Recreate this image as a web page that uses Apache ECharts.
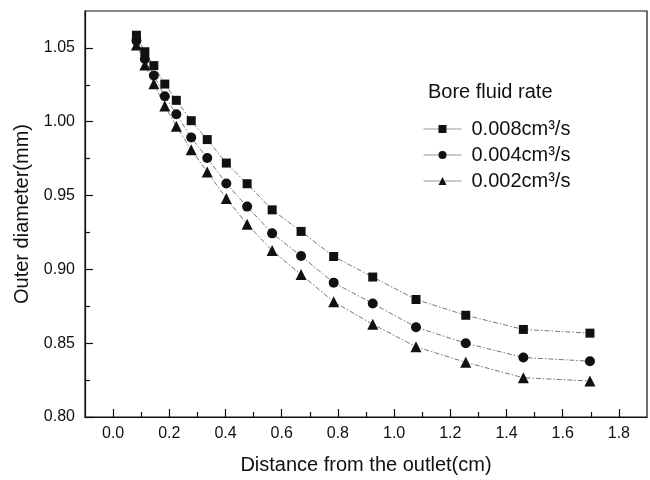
<!DOCTYPE html>
<html>
<head>
<meta charset="utf-8">
<script src="https://cdn.jsdelivr.net/npm/echarts@6/dist/echarts.min.js"></script>
<style>
html,body{margin:0;padding:0;background:#fff;}
#c{width:650px;height:480px;}
</style>
</head>
<body>
<div id="c"></div>
<script>
// distance from the outlet (cm)
const distance = [0.083, 0.113, 0.145, 0.184, 0.225, 0.278, 0.335, 0.403, 0.477, 0.566, 0.669, 0.785, 0.924, 1.078, 1.255, 1.460, 1.697];
// outer diameter (mm)
const rate008 = [1.0586, 1.0474, 1.0380, 1.0255, 1.0145, 1.0007, 0.9879, 0.9720, 0.9580, 0.9403, 0.9257, 0.9087, 0.8948, 0.8796, 0.8689, 0.8593, 0.8568];
const rate004 = [1.0548, 1.0425, 1.0313, 1.0172, 1.0051, 0.9893, 0.9754, 0.9581, 0.9425, 0.9244, 0.9090, 0.8910, 0.8769, 0.8608, 0.8500, 0.8403, 0.8378];
const rate002 = [1.0519, 1.0385, 1.0257, 1.0107, 0.9970, 0.9810, 0.9660, 0.9480, 0.9306, 0.9127, 0.8965, 0.8780, 0.8628, 0.8476, 0.8370, 0.8266, 0.8244];
const seriesNames = ['0.008cm³/s', '0.004cm³/s', '0.002cm³/s'];
const xTicks = [0.0, 0.2, 0.4, 0.6, 0.8, 1.0, 1.2, 1.4, 1.6, 1.8];
const xMinorTicks = [0.1, 0.3, 0.5, 0.7, 0.9, 1.1, 1.3, 1.5, 1.7];
const yTicks = [0.80, 0.85, 0.90, 0.95, 1.00, 1.05];
const yMinorTicks = [0.825, 0.875, 0.925, 0.975, 1.025];

const FONT = 'Liberation Sans, Arial, sans-serif';
const pair = (xs, ys) => xs.map((x, i) => [x, ys[i]]);

const chart = echarts.init(document.getElementById('c'), null, {renderer: 'canvas'});
const lineStyle = {color: '#666', width: 0.9, type: [5, 2, 1.5, 2]};
const mk = (name, data, symbol, size) => ({
  name, type: 'line', data, symbol, symbolSize: size,
  xAxisIndex: 0, yAxisIndex: 0,
  itemStyle: {color: '#111'},
  lineStyle: lineStyle,
  animation: false
});
const tickStyle = {color: '#111', width: 1.2};

chart.setOption({
  animation: false,
  backgroundColor: '#fff',
  grid: {left: 85, top: 11, right: 3, bottom: 59, show: true, borderColor: '#111', borderWidth: 1.2, backgroundColor: 'transparent'},
  xAxis: [{
    type: 'value', min: -0.1, max: 1.9, position: 'bottom',
    name: 'Distance from the outlet(cm)', nameLocation: 'middle', nameGap: 38,
    nameTextStyle: {fontFamily: FONT, fontSize: 20, color: '#111'},
    axisLine: {show: true, onZero: false, lineStyle: tickStyle},
    axisTick: {show: true, inside: true, length: 8, customValues: xTicks, lineStyle: tickStyle},
    axisLabel: {show: true, customValues: xTicks, margin: 9, fontFamily: FONT, fontSize: 16, color: '#111',
      formatter: v => v.toFixed(1)},
    splitLine: {show: false}
  }, {
    type: 'value', min: -0.1, max: 1.9, position: 'bottom', offset: 0,
    axisLine: {show: false, onZero: false},
    axisTick: {show: true, inside: true, length: 5, customValues: xMinorTicks, lineStyle: tickStyle},
    axisLabel: {show: false},
    splitLine: {show: false}
  }],
  yAxis: [{
    type: 'value', min: 0.80, max: 1.075, position: 'left',
    name: 'Outer diameter(mm)', nameLocation: 'middle', nameGap: 53,
    nameTextStyle: {fontFamily: FONT, fontSize: 20, color: '#111'},
    axisLine: {show: true, onZero: false, lineStyle: tickStyle},
    axisTick: {show: true, inside: true, length: 8, customValues: yTicks, lineStyle: tickStyle},
    axisLabel: {show: true, customValues: yTicks, margin: 10, fontFamily: FONT, fontSize: 16, color: '#111',
      formatter: v => v.toFixed(2)},
    splitLine: {show: false}
  }, {
    type: 'value', min: 0.80, max: 1.075, position: 'left', offset: 0,
    axisLine: {show: false, onZero: false},
    axisTick: {show: true, inside: true, length: 5, customValues: yMinorTicks, lineStyle: tickStyle},
    axisLabel: {show: false},
    splitLine: {show: false}
  }],
  legend: {
    orient: 'vertical', left: 418, top: 114, itemWidth: 38, itemHeight: 10, itemGap: 6,
    data: seriesNames,
    textStyle: {fontFamily: FONT, fontSize: 20, color: '#111', padding: [0, 0, 0, 5]},
    lineStyle: {type: 'solid', color: '#999', width: 1}
  },
  graphic: [{
    type: 'text', left: 428, top: 82,
    style: {text: 'Bore fluid rate', font: '20px ' + FONT, fill: '#111'}
  }],
  series: [
    mk(seriesNames[0], pair(distance, rate008), 'rect', 9),
    mk(seriesNames[1], pair(distance, rate004), 'circle', 10),
    mk(seriesNames[2], pair(distance, rate002), 'triangle', 11)
  ]
});
</script>
</body>
</html>
